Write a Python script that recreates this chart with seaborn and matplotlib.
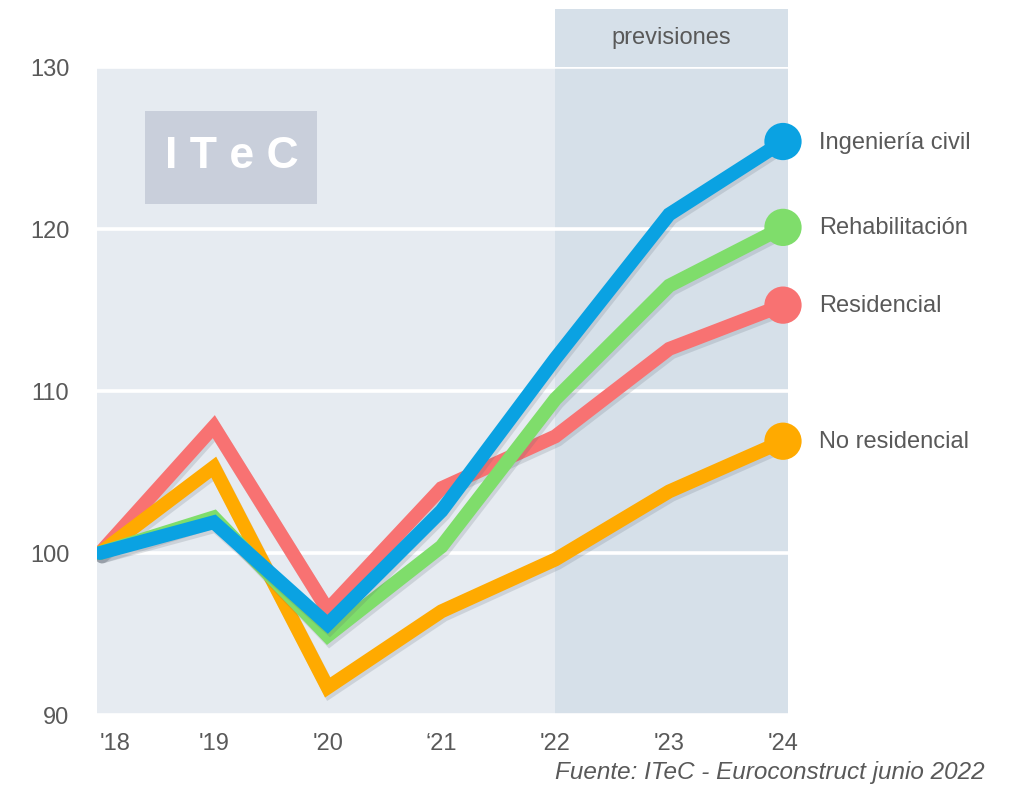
import matplotlib
matplotlib.use("Agg")
import matplotlib.pyplot as plt
import matplotlib.patheffects as pe
from matplotlib.patches import Rectangle
import matplotlib.transforms as mtransforms
import seaborn as sns
import pandas as pd

# ---- data ----
years = ["'18", "'19", "'20", "‘21", "'22", "'23", "'24"]
series_names = ["Residencial", "No residencial", "Rehabilitación", "Ingeniería civil"]
residencial = [100.0, 107.8, 96.5, 104.0, 107.2, 112.6, 115.3]
no_residencial = [100.0, 105.3, 91.7, 96.4, 99.6, 103.8, 106.9]
rehabilitacion = [100.0, 102.2, 94.9, 100.4, 109.5, 116.5, 120.1]
ingenieria = [100.0, 101.9, 95.6, 102.6, 112.0, 120.9, 125.4]
y_ticks = [90, 100, 110, 120, 130]
forecast_start = 4
colors = {"Residencial": "#F87272", "No residencial": "#FFAA00",
          "Rehabilitación": "#7FDD6B", "Ingeniería civil": "#0AA2E2"}

values = [residencial, no_residencial, rehabilitacion, ingenieria]
rows = []
for name, vals in zip(series_names, values):
    for i, v in enumerate(vals):
        rows.append({"x": i, "value": v, "serie": name})
df = pd.DataFrame(rows)

sns.set_theme(style="white")
plt.rcParams["font.family"] = ["Liberation Sans", "DejaVu Sans"]
text_color = "#595959"
FS = 17

fig = plt.figure(figsize=(10.16, 8.04), dpi=100)
L, R, B, T = 97 / 1016, 788 / 1016, 1 - 716 / 804, 1 - 68 / 804
ax = fig.add_axes([L, B, R - L, T - B])
ax.set_facecolor("#E6EBF1")

ax.set_xlim(-0.026, 6.044)
ax.set_ylim(90, 130)

# forecast band (extends above the plot)
trans = mtransforms.blended_transform_factory(ax.transData, ax.transAxes)
top_frac = 1 + (68 - 10) / 648
ax.add_patch(Rectangle((forecast_start, 0), 6.044 - forecast_start, top_frac,
                       transform=trans, facecolor="#D6E0E9", edgecolor="none",
                       clip_on=False, zorder=0))
ax.text((forecast_start + 6.044) / 2, 1 + (68 - 38) / 648, "previsiones",
        transform=trans, ha="center", va="center", fontsize=FS, color=text_color)

ax.set_axisbelow(True)
ax.set_yticks(y_ticks)
ax.grid(axis="y", color="white", linewidth=2.6, zorder=0.5)
ax.grid(axis="x", visible=False)
for s in ax.spines.values():
    s.set_visible(False)

shadow = [pe.SimpleLineShadow(offset=(1.5, -2.5), shadow_color="#5a6470", alpha=0.18),
          pe.Normal()]

sns.lineplot(data=df, x="x", y="value", hue="serie", hue_order=series_names,
             palette=colors, linewidth=10, ax=ax, legend=False, zorder=3)
for line in ax.get_lines():
    line.set_solid_capstyle("round")
    line.set_solid_joinstyle("miter")
    line.set_path_effects(shadow)

last = df[df["x"] == 6]
sns.scatterplot(data=last, x="x", y="value", hue="serie", hue_order=series_names,
                palette=colors, s=720, ax=ax, legend=False, zorder=4,
                edgecolor="none", clip_on=False)
for coll in ax.collections:
    coll.set_path_effects(shadow)

for name, vals in zip(series_names, values):
    ax.annotate(name, xy=(6, vals[-1]), xytext=(26, 0), textcoords="offset points",
                ha="left", va="center", fontsize=FS, color=text_color,
                annotation_clip=False)

# logo
ax.add_patch(Rectangle((145 / 1016, 1 - 205 / 804), (317 - 145) / 1016, (205 - 112) / 804,
                       transform=fig.transFigure, facecolor="#C9CFDB", edgecolor="none",
                       zorder=2))
fig.text(232 / 1016, 1 - 157 / 804, "I T e C", ha="center", va="center",
         fontsize=32, fontweight="bold", color="white")

ax.set_xticks(range(len(years)))
ax.set_xticklabels(years)
ax.tick_params(axis="x", length=0, pad=12, labelsize=FS, labelcolor=text_color)
ax.tick_params(axis="y", length=0, pad=20, labelsize=FS, labelcolor=text_color)
ax.get_xticklabels()[0].set_horizontalalignment("left")
ax.set_xlabel("")
ax.set_ylabel("")

fig.text(985 / 1016, 1 - 773 / 804, "Fuente: ITeC - Euroconstruct junio 2022",
         ha="right", va="center", fontsize=17.5, style="italic", color=text_color)

fig.savefig("out.png", dpi=100)
